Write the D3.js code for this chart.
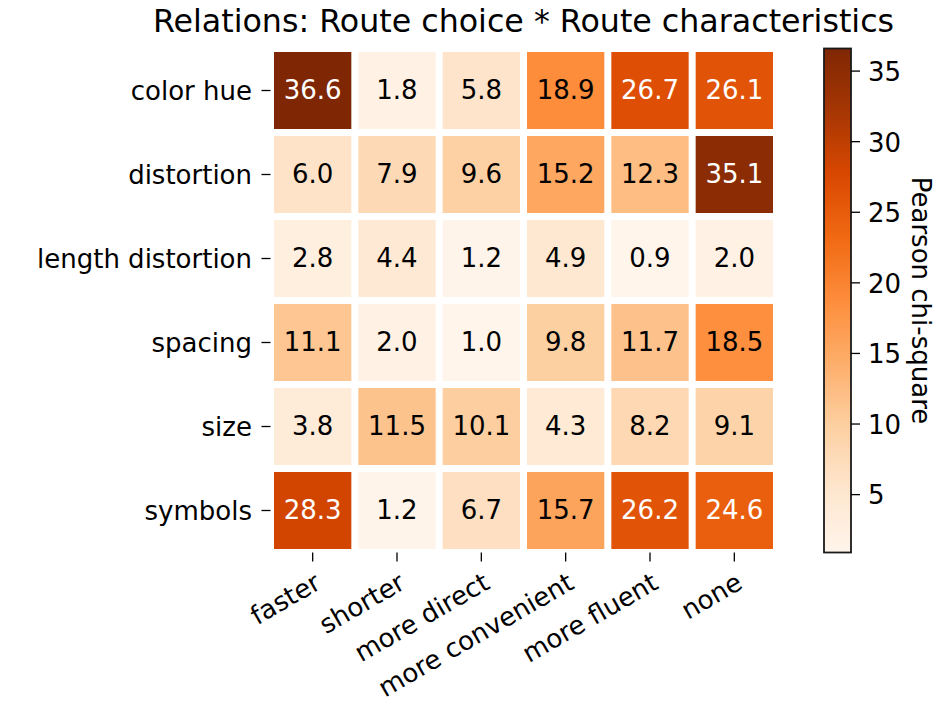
<!DOCTYPE html>
<html>
<head>
<meta charset="utf-8">
<script src="https://cdn.jsdelivr.net/npm/d3@7"></script>
<style>
  html, body { margin: 0; padding: 0; background: #fff; }
  svg { display: block; }
  text { font-family: "DejaVu Sans", sans-serif; fill: #000; }
</style>
</head>
<body>
<svg id="chart" width="945" height="702"></svg>
<script>
// Route characteristics (rows) against route choice (columns)
const rowLabels = ["color hue", "distortion", "length distortion", "spacing", "size", "symbols"];
const colLabels = ["faster", "shorter", "more direct", "more convenient", "more fluent", "none"];

// Pearson chi-square per row, one value per column
const colorHue         = [36.6, 1.8, 5.8, 18.9, 26.7, 26.1];
const distortion       = [6.0, 7.9, 9.6, 15.2, 12.3, 35.1];
const lengthDistortion = [2.8, 4.4, 1.2, 4.9, 0.9, 2.0];
const spacing          = [11.1, 2.0, 1.0, 9.8, 11.7, 18.5];
const size             = [3.8, 11.5, 10.1, 4.3, 8.2, 9.1];
const symbols          = [28.3, 1.2, 6.7, 15.7, 26.2, 24.6];

const colorbarTicks = [5, 10, 15, 20, 25, 30, 35];

const titleText = "Relations: Route choice * Route characteristics";
const colorbarLabel = "Pearson chi-square";

const matrix = [colorHue, distortion, lengthDistortion, spacing, size, symbols];
const cells = [];
matrix.forEach((row, r) => row.forEach((v, c) => cells.push({ row: rowLabels[r], col: colLabels[c], value: v })));

const allValues = matrix.flat();
const vmin = d3.min(allValues), vmax = d3.max(allValues);

// "Oranges" colour ramp, piecewise linear over its nine anchor colours
const orangeStops = ["#fff5eb", "#fee6ce", "#fdd0a2", "#fdae6b", "#fd8d3c", "#f16913", "#d94801", "#a63603", "#7f2704"];
const ramp = d3.scaleLinear()
  .domain(d3.range(orangeStops.length).map(i => i / (orangeStops.length - 1)))
  .range(orangeStops)
  .interpolate(d3.interpolateRgb)
  .clamp(true);
const norm = d3.scaleLinear().domain([vmin, vmax]).range([0, 1]).clamp(true);
const color = v => ramp(norm(v));

const FS = 26;         // tick / annotation size
const FS_TITLE = 31.7; // title size

const svg = d3.select("#chart");

const plot = { left: 270.5, right: 776.5, top: 48.5, bottom: 552.5 };
const gap = 7;
const tickLen = 9, tickPad = 9;

const x = d3.scaleBand().domain(colLabels).range([plot.left, plot.right]);
const y = d3.scaleBand().domain(rowLabels).range([plot.top, plot.bottom]);

// cells
svg.append("g").selectAll("rect").data(cells).join("rect")
  .attr("x", d => x(d.col) + gap / 2)
  .attr("y", d => y(d.row) + gap / 2)
  .attr("width", x.bandwidth() - gap)
  .attr("height", y.bandwidth() - gap)
  .attr("fill", d => color(d.value));

// cell annotations
svg.append("g").selectAll("text").data(cells).join("text")
  .attr("x", d => x(d.col) + x.bandwidth() / 2)
  .attr("y", d => y(d.row) + y.bandwidth() / 2)
  .attr("text-anchor", "middle")
  .attr("dy", "0.31em")
  .style("font-size", FS + "px")
  .style("fill", d => d.value > 20 ? "#fff" : "#000")
  .text(d => d.value.toFixed(1));

// y axis ticks and labels
const yAxis = svg.append("g");
rowLabels.forEach(r => {
  const cy = y(r) + y.bandwidth() / 2;
  yAxis.append("line")
    .attr("x1", plot.left - tickLen).attr("x2", plot.left)
    .attr("y1", cy).attr("y2", cy)
    .attr("stroke", "#000").attr("stroke-width", 1.3);
  yAxis.append("text")
    .attr("x", plot.left - tickLen - tickPad - 0.5)
    .attr("y", cy)
    .attr("text-anchor", "end")
    .attr("dy", "0.37em")
    .style("font-size", FS + "px")
    .text(r);
});

// x axis ticks and labels, rotated 30° about their top-right corner
const xAxis = svg.append("g");
colLabels.forEach(c => {
  const cx = x(c) + x.bandwidth() / 2;
  xAxis.append("line")
    .attr("x1", cx).attr("x2", cx)
    .attr("y1", plot.bottom).attr("y2", plot.bottom + tickLen)
    .attr("stroke", "#000").attr("stroke-width", 1.3);
  xAxis.append("text")
    .attr("transform", `translate(${cx},${plot.bottom + tickLen + tickPad}) rotate(-30)`)
    .attr("x", 0)
    .attr("y", FS * 0.76)
    .attr("text-anchor", "end")
    .style("font-size", FS + "px")
    .text(c);
});

// title
svg.append("text")
  .attr("x", (plot.left + plot.right) / 2)
  .attr("y", 32)
  .attr("text-anchor", "middle")
  .style("font-size", FS_TITLE + "px")
  .text(titleText);

// colour bar
const cb = { left: 824, right: 851, top: plot.top, bottom: plot.bottom };
const cbScale = d3.scaleLinear().domain([vmin, vmax]).range([cb.bottom, cb.top]);

const defs = svg.append("defs");
const grad = defs.append("linearGradient")
  .attr("id", "cbGrad").attr("x1", 0).attr("y1", 1).attr("x2", 0).attr("y2", 0);
grad.selectAll("stop").data(d3.range(0, 1.0001, 0.125)).join("stop")
  .attr("offset", t => t)
  .attr("stop-color", t => ramp(t));

svg.append("rect")
  .attr("x", cb.left).attr("y", cb.top)
  .attr("width", cb.right - cb.left).attr("height", cb.bottom - cb.top)
  .attr("fill", "url(#cbGrad)")
  .attr("stroke", "#1a1a1a").attr("stroke-width", 1.8);

const cbAxis = svg.append("g");
colorbarTicks.forEach(t => {
  const ty = cbScale(t);
  cbAxis.append("line")
    .attr("x1", cb.right).attr("x2", cb.right + tickLen)
    .attr("y1", ty).attr("y2", ty)
    .attr("stroke", "#000").attr("stroke-width", 1.3);
  cbAxis.append("text")
    .attr("x", cb.right + tickLen + tickPad - 1)
    .attr("y", ty)
    .attr("text-anchor", "start")
    .attr("dy", "0.38em")
    .style("font-size", FS + "px")
    .text(t);
});

svg.append("text")
  .attr("transform", `translate(912,${(cb.top + cb.bottom) / 2}) rotate(90)`)
  .attr("text-anchor", "middle")
  .style("font-size", FS + "px")
  .text(colorbarLabel);
</script>
</body>
</html>
